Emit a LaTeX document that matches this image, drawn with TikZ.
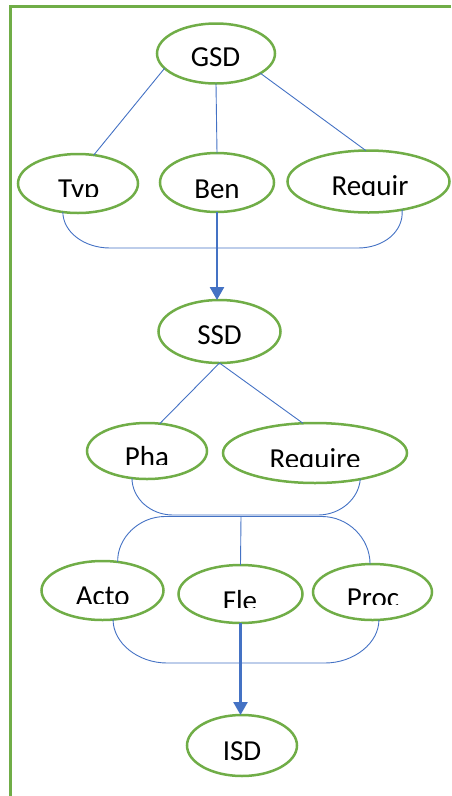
\documentclass[tikz,border=0pt]{standalone}
\usepackage{fontspec}
\setmainfont{Carlito}
\usetikzlibrary{shapes.geometric,arrows.meta}
\definecolor{ogreen}{HTML}{70AD47}
\definecolor{oblue}{HTML}{4472C4}
\begin{document}
\begin{tikzpicture}[x=1pt,y=-1pt,
  oval/.style n args={2}{ellipse,draw=ogreen,line width=2.5pt,minimum width=#1,minimum height=#2,inner sep=0pt,outer sep=0pt},
  lbl/.style={inner sep=0pt,anchor=base,font=\fontsize{29}{31}\selectfont},
  thin/.style={draw=oblue,line width=0.9pt},
  flow/.style={draw=oblue,line width=2.5pt,-{Triangle[width=14pt,length=13pt]}},
  frame/.style={draw=ogreen,line width=3pt}]
\useasboundingbox (0,0) rectangle (451,796);
% frame
\coordinate (fa) at (10,796);
\coordinate (fb) at (10,6.5);
\coordinate (fc) at (451,6.5);
\draw[frame] (fa) -- (fb) -- (fc);
% ellipses
\node[oval={118pt}{60pt}] (gsd) at (216,53.5) {};
\node[oval={120pt}{59pt}] (typ) at (78,183.5) {};
\node[oval={114pt}{59pt}] (ben) at (217,182.5) {};
\node[oval={162pt}{62pt}] (requir) at (368.5,181.5) {};
\node[oval={122pt}{63pt}] (ssd) at (219.5,331.5) {};
\node[oval={120pt}{56pt}] (pha) at (147,451) {};
\node[oval={184pt}{60pt}] (require) at (315,453) {};
\node[oval={122pt}{59pt}] (acto) at (102.5,590.5) {};
\node[oval={124pt}{58pt}] (fle) at (240.5,594) {};
\node[oval={119pt}{56pt}] (proc) at (372.5,592) {};
\node[oval={110pt}{61pt}] (isd) at (242,745.5) {};
% labels
\node[lbl] (tgsd) at (215.5,66.3) {GSD};
\begin{scope}\clip (10,160) rectangle (150,196.7);
\node[lbl] (ttyp) at (78.8,198.5) {Typ};\end{scope}
\begin{scope}\clip (150,160) rectangle (280,198.3);
\node[lbl] (tben) at (217,198.5) {Ben};\end{scope}
\begin{scope}\clip (290,160) rectangle (450,195);
\node[lbl] (trequir) at (370,195.2) {Requir};\end{scope}
\node[lbl] (tssd) at (219.5,344) {SSD};
\begin{scope}\clip (90,430) rectangle (205,464.3);
\node[lbl] (tpha) at (147,466.8) {Pha};\end{scope}
\begin{scope}\clip (225,430) rectangle (405,466.7);
\node[lbl] (trequire) at (315,468.5) {Require};\end{scope}
\begin{scope}\clip (45,570) rectangle (160,603.3);
\node[lbl] (tacto) at (102.7,605.5) {Acto};\end{scope}
\begin{scope}\clip (180,570) rectangle (300,607);
\node[lbl] (tfle) at (240,610.5) {Fle};\end{scope}
\begin{scope}\clip (315,570) rectangle (430,604);
\node[lbl] (tproc) at (373,607.5) {Proc};\end{scope}
\node[lbl] (tisd) at (242,760) {ISD};
% tree lines
\draw[thin] (gsd.196) -- (typ.61);
\draw[thin] (gsd.270) -- (ben.north);
\draw[thin] (gsd.336) -- (requir.95);
\draw[thin] (ssd.south) -- (pha.65);
\draw[thin] (ssd.south) -- (require.112);
% brackets
\draw[thin] (typ.242) .. controls (63,232) and (84,248) .. (110,248) -- (358,248)
  .. controls (383,248) and (404,232) .. (requir.320);
\draw[thin] (pha.241) .. controls (132,498) and (150,515) .. (173,515) -- (318,515)
  .. controls (341,515) and (359,498) .. (require.330);
\coordinate (j2) at (241,516.5);
\draw[thin] (acto.62) .. controls (117,538) and (139,516.5) .. (165,516.5) -- (322,516.5)
  .. controls (348,516.5) and (370,538) .. (proc.95);
\draw[thin] (j2) -- (fle.north);
\draw[thin] (acto.290) .. controls (113,643) and (138,663) .. (167,663) -- (325,663)
  .. controls (354,663) and (379,643) .. (proc.283);
% flow arrows
\draw[flow] (ben.south) -- (ssd.north -| ben.south);
\draw[flow] (fle.south) -- (isd.north -| fle.south);
\end{tikzpicture}
\end{document}
